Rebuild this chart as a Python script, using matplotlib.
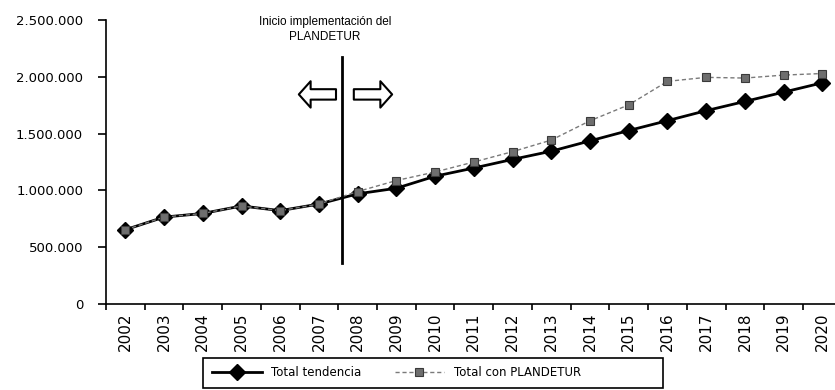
import matplotlib
matplotlib.use("Agg")
import matplotlib.pyplot as plt
from matplotlib.patches import Rectangle
from matplotlib.ticker import FuncFormatter, FixedLocator
from matplotlib.lines import Line2D

# ---- Data ----
years = [str(y) for y in range(2002, 2021)]
total_tendencia = [654000, 765000, 797000, 863000, 822000, 880000, 970000,
                   1019000, 1125000, 1197000, 1273000, 1345000, 1436000,
                   1527000, 1614000, 1702000, 1783000, 1865000, 1947000]
total_plandetur = [654000, 765000, 797000, 863000, 822000, 880000, 990000,
                   1087000, 1162000, 1250000, 1341000, 1443000, 1613000,
                   1753000, 1960000, 1995000, 1989000, 2015000, 2029000]
y_ticks = [0, 500000, 1000000, 1500000, 2000000, 2500000]

legend_labels = ["Total tendencia", "Total con PLANDETUR"]
note_text = "Inicio implementación del\nPLANDETUR"

fig = plt.figure(figsize=(8.35, 3.9), dpi=100)
ax = fig.add_axes([106 / 835, 86 / 390, 735.7 / 835, 284 / 390])

x = list(range(len(years)))

# series
ax.plot(x, total_tendencia, color="black", lw=2, marker="D", ms=8,
        mfc="black", mec="black", zorder=3)
ax.plot(x, total_plandetur, color="#7a7a7a", lw=1, ls=(0, (3, 2)),
        marker="s", ms=6, mfc="#6e6e6e", mec="#3a3a3a", mew=0.8, zorder=4)

# start of the plan
ax.plot([5.6, 5.6], [365000, 2170000], color="black", lw=2, zorder=5)
ax.text(5.15, 2414000, note_text, ha="center", va="center",
        fontsize=8.5, family="Liberation Sans", linespacing=1.3)

arrow_style = "simple,head_length=0.85,head_width=1.9,tail_width=0.75"
for tail, head in [(5.44, 4.48), (5.9, 6.89)]:
    ax.annotate("", xy=(head, 1845000), xytext=(tail, 1845000),
                arrowprops=dict(arrowstyle=arrow_style, fc="white",
                                ec="black", lw=1.5, mutation_scale=10,
                                shrinkA=0, shrinkB=0))

# axes
ax.set_xlim(-0.5, 18.5)
ax.set_ylim(0, 2500000)
ax.spines["top"].set_visible(False)
ax.spines["right"].set_visible(False)
ax.spines["left"].set_linewidth(1.2)
ax.spines["bottom"].set_linewidth(1.2)

ax.set_xticks(x)
ax.set_xticklabels(years, rotation=90, fontsize=11)
ax.xaxis.set_minor_locator(FixedLocator([i - 0.5 for i in range(len(years) + 1)]))
ax.tick_params(axis="x", which="major", length=0, pad=6)
ax.tick_params(axis="x", which="minor", length=4.5, width=1.2, direction="out")

ax.set_yticks(y_ticks)
ax.yaxis.set_major_formatter(FuncFormatter(lambda v, p: f"{int(v):,}".replace(",", ".")))
ax.tick_params(axis="y", length=5.5, width=1.2, pad=11, labelsize=9.5)

# legend with its own box
handles = [
    Line2D([], [], color="black", lw=2, marker="D", ms=8),
    Line2D([], [], color="#7a7a7a", lw=1, ls=(0, (3, 2)), marker="s", ms=6,
           mfc="#6e6e6e", mec="#3a3a3a", mew=0.8),
]
fig.legend(handles, legend_labels, loc="center left",
           bbox_to_anchor=(204 / 835, 17 / 390), ncol=2, frameon=False,
           fontsize=8.5, handlelength=4.2, columnspacing=2.8, borderpad=0.2)
fig.patches.append(Rectangle((203 / 835, 2 / 390), 460 / 835, 30 / 390,
                             transform=fig.transFigure, fill=False,
                             ec="black", lw=1.2))

fig.savefig("out.png", dpi=100)
